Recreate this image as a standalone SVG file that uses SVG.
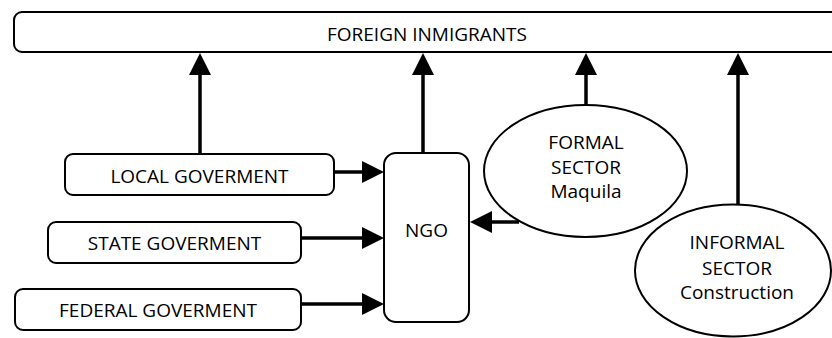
<svg xmlns="http://www.w3.org/2000/svg" width="832" height="338" viewBox="0 0 832 338">
<style>
.box{fill:#fff;stroke:#000;stroke-width:2}
.t{font-family:"Open Sans","Noto Sans","DejaVu Sans",sans-serif;font-size:19px;fill:#000;text-anchor:middle}
.c{fill:none;stroke:#000;stroke-width:3.5}
</style>
<defs>
<marker id="ah" markerUnits="userSpaceOnUse" markerWidth="22" markerHeight="22" refX="0" refY="11" orient="auto" viewBox="0 0 22 22">
<path d="M0,0 L22,11 L0,22 Z" fill="#000"/>
</marker>
</defs>
<rect width="832" height="338" fill="#fff"/>
<g id="connectors">
<line class="c" x1="200" y1="153" x2="200" y2="75" marker-end="url(#ah)"/>
<line class="c" x1="423" y1="153" x2="423" y2="75" marker-end="url(#ah)"/>
<line class="c" x1="586" y1="105" x2="586" y2="75" marker-end="url(#ah)"/>
<line class="c" x1="738" y1="204" x2="738" y2="75" marker-end="url(#ah)"/>
<line class="c" x1="334" y1="172" x2="362" y2="172" marker-end="url(#ah)"/>
<line class="c" x1="301" y1="238" x2="362" y2="238" marker-end="url(#ah)"/>
<line class="c" x1="301" y1="304" x2="362" y2="304" marker-end="url(#ah)"/>
<line class="c" x1="519" y1="222" x2="492" y2="222" marker-end="url(#ah)"/>
</g>
<g id="foreign">
<rect class="box" x="14" y="12" width="840" height="40" rx="8"/>
<text class="t" x="427" y="41">FOREIGN INMIGRANTS</text>
</g>
<g id="local">
<rect class="box" x="65" y="154" width="269" height="41" rx="8"/>
<text class="t" x="199.5" y="183">LOCAL GOVERMENT</text>
</g>
<g id="state">
<rect class="box" x="48" y="222" width="253" height="41" rx="8"/>
<text class="t" x="174.5" y="250">STATE GOVERMENT</text>
</g>
<g id="federal">
<rect class="box" x="15" y="289" width="286" height="41" rx="8"/>
<text class="t" x="158" y="317">FEDERAL GOVERMENT</text>
</g>
<g id="ngo">
<rect class="box" x="384" y="153" width="85" height="169" rx="12"/>
<text class="t" x="426.5" y="237">NGO</text>
</g>
<g id="formal">
<ellipse class="box" cx="585.5" cy="171" rx="101.5" ry="66"/>
<text class="t" x="586" y="149">FORMAL</text>
<text class="t" x="586" y="174">SECTOR</text>
<text class="t" x="586" y="198">Maquila</text>
</g>
<g id="informal">
<ellipse class="box" cx="733" cy="270.5" rx="98" ry="66"/>
<text class="t" x="737" y="249">INFORMAL</text>
<text class="t" x="737" y="275">SECTOR</text>
<text class="t" x="737" y="299">Construction</text>
</g>
</svg>
